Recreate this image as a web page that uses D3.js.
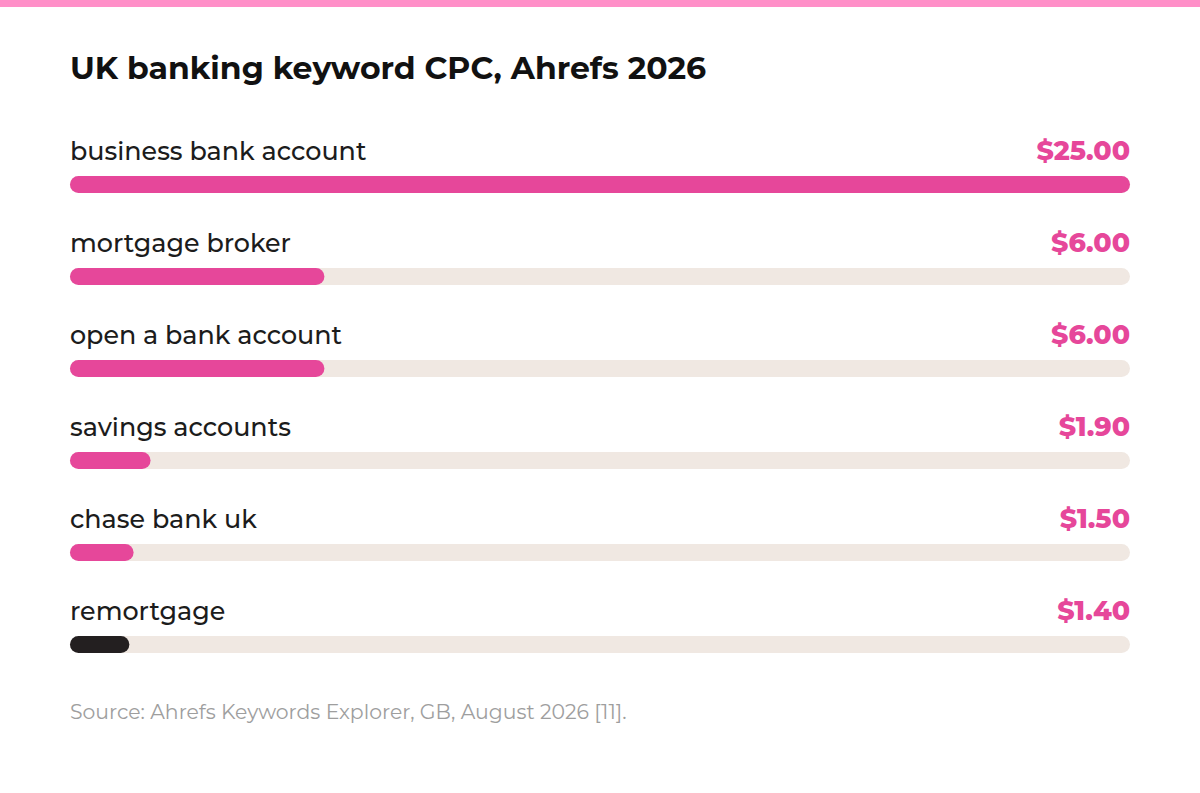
<!DOCTYPE html>
<html>
<head>
<meta charset="utf-8">
<script src="https://cdn.jsdelivr.net/npm/d3@7"></script>
<style>
  body { margin: 0; background: #fff; }
  svg { display: block; font-family: Montserrat, Inter, "Noto Sans", sans-serif; }
</style>
</head>
<body>
<div id="chart"></div>
<script>
const keywords = ["business bank account", "mortgage broker", "open a bank account",
  "savings accounts", "chase bank uk", "remortgage"];
const cpc = [25.00, 6.00, 6.00, 1.90, 1.50, 1.40];
const highlight = [true, true, true, true, true, false];

const width = 1200;
const height = 793;
const left = 70;
const right = 1130;
const rowTop = 130;
const rowStep = 92;
const barH = 17;

const svg = d3.select("#chart").append("svg")
  .attr("width", width)
  .attr("height", height);

svg.append("rect")
  .attr("x", 0).attr("y", 0)
  .attr("width", width).attr("height", 7)
  .attr("fill", "#ff8fc8");

svg.append("text")
  .attr("x", left)
  .attr("y", 79)
  .attr("font-size", "31.5px")
  .attr("font-weight", 700)
  .attr("fill", "#111")
  .text("UK banking keyword CPC, Ahrefs 2026");

const x = d3.scaleLinear().domain([0, d3.max(cpc)]).range([0, right - left]);
const y = d3.scaleBand().domain(keywords).range([rowTop, rowTop + rowStep * keywords.length]);

const rows = svg.selectAll(".row")
  .data(keywords)
  .enter().append("g")
  .attr("class", "row")
  .attr("transform", d => `translate(0, ${y(d)})`);

rows.append("text")
  .attr("x", left)
  .attr("y", 30)
  .attr("font-size", "25.4px")
  .attr("font-weight", 500)
  .attr("fill", "#1c1c1c")
  .text(d => d);

rows.append("text")
  .attr("x", right)
  .attr("y", 30)
  .attr("text-anchor", "end")
  .attr("font-size", "26.8px")
  .attr("font-weight", 800)
  .attr("fill", "#e6479a")
  .text((d, i) => "$" + cpc[i].toFixed(2));

rows.append("rect")
  .attr("x", left)
  .attr("y", 46)
  .attr("width", right - left)
  .attr("height", barH)
  .attr("rx", barH / 2)
  .attr("fill", "#f0e8e2");

rows.append("rect")
  .attr("x", left)
  .attr("y", 46)
  .attr("width", (d, i) => x(cpc[i]))
  .attr("height", barH)
  .attr("rx", barH / 2)
  .attr("fill", (d, i) => highlight[i] ? "#e6479a" : "#231f20");

svg.append("text")
  .attr("x", left)
  .attr("y", 719)
  .attr("font-size", "20.4px")
  .attr("fill", "#9e9e9e")
  .text("Source: Ahrefs Keywords Explorer, GB, August 2026 [11].");
</script>
</body>
</html>
